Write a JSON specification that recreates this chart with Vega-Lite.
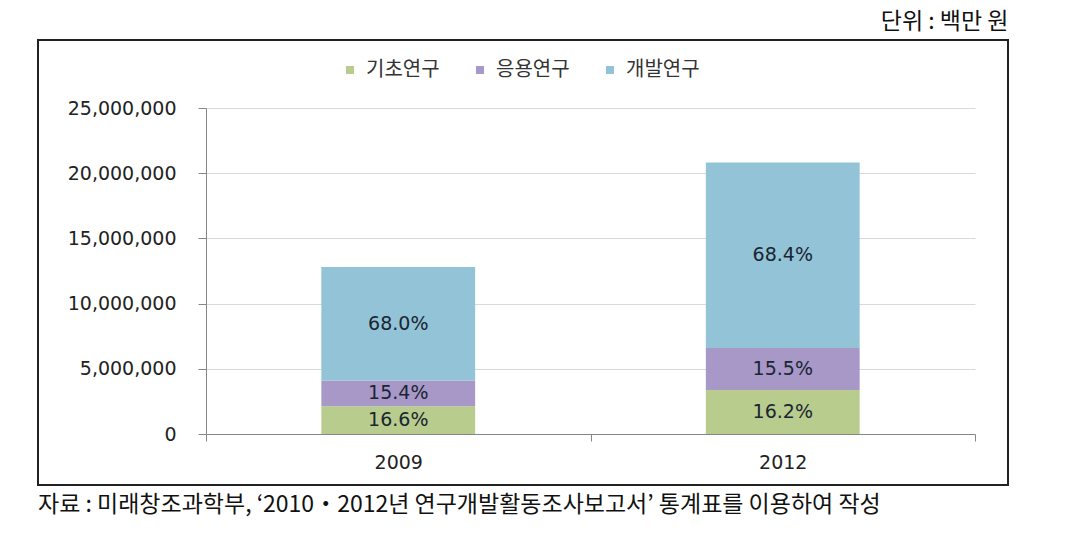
{
  "$schema": "https://vega.github.io/schema/vega-lite/v6.json",
  "autosize": "none",
  "padding": {"left": 38, "top": 40, "right": 60, "bottom": 60},
  "width": 970,
  "height": 445,
  "background": "#ffffff",
  "title": {
    "text": "자료 : 미래창조과학부, ‘2010・2012년 연구개발활동조사보고서’ 통계표를 이용하여 작성",
    "orient": "bottom",
    "anchor": "start",
    "frame": "group",
    "offset": 9,
    "font": "Noto Sans CJK KR",
    "fontSize": 23,
    "fontWeight": "normal",
    "color": "#111111"
  },
  "data": {
    "values": [
      {"year": "2009", "cat": "기초연구", "value": 2125000, "pct": "16.6%", "order": 1},
      {"year": "2009", "cat": "응용연구", "value": 1971000, "pct": "15.4%", "order": 2},
      {"year": "2009", "cat": "개발연구", "value": 8704000, "pct": "68.0%", "order": 3},
      {"year": "2012", "cat": "기초연구", "value": 3370000, "pct": "16.2%", "order": 1},
      {"year": "2012", "cat": "응용연구", "value": 3224000, "pct": "15.5%", "order": 2},
      {"year": "2012", "cat": "개발연구", "value": 14227000, "pct": "68.4%", "order": 3}
    ]
  },
  "encoding": {
    "x": {
      "field": "year",
      "type": "nominal",
      "scale": {"range": [168, 937], "paddingInner": 0, "paddingOuter": 0},
      "axis": {
        "title": null,
        "offset": -51,
        "tickBand": "extent",
        "domainColor": "#868686",
        "tickColor": "#868686",
        "tickSize": 7,
        "labelPadding": 12,
        "labelAngle": 0,
        "labelFont": "DejaVu Sans",
        "labelFontSize": 19,
        "labelColor": "#222222",
        "grid": false
      }
    },
    "y": {
      "field": "value",
      "type": "quantitative",
      "stack": "zero",
      "scale": {"domain": [0, 25000000], "range": [394, 68], "nice": false},
      "axis": {
        "title": "단위 : 백만 원",
        "titleAngle": 0,
        "titleAlign": "right",
        "titleBaseline": "middle",
        "titleX": 802,
        "titleY": -19,
        "titleFont": "Noto Sans CJK KR",
        "titleFontSize": 23,
        "titleFontWeight": "normal",
        "titleColor": "#111111",
        "offset": -168,
        "values": [0, 5000000, 10000000, 15000000, 20000000, 25000000],
        "format": ",d",
        "domainColor": "#868686",
        "tickColor": "#868686",
        "tickSize": 8,
        "labelPadding": 22,
        "labelFont": "DejaVu Sans",
        "labelFontSize": 19,
        "labelColor": "#222222",
        "grid": true,
        "gridColor": "#d9d9d9",
        "gridWidth": 1
      }
    },
    "order": {"field": "order", "type": "quantitative"}
  },
  "layer": [
    {
      "mark": {"type": "bar", "width": {"band": 0.4}},
      "encoding": {
        "color": {
          "field": "cat",
          "type": "nominal",
          "scale": {
            "domain": ["기초연구", "응용연구", "개발연구"],
            "range": ["#b8cc8d", "#a898c8", "#92c3d6"]
          },
          "legend": {
            "title": null,
            "orient": "none",
            "direction": "horizontal",
            "legendX": 302,
            "legendY": 20,
            "symbolType": "square",
            "symbolSize": 64,
            "symbolStrokeWidth": 0,
            "labelFont": "Noto Sans CJK KR",
            "labelFontSize": 20,
            "labelColor": "#333333",
            "labelOffset": 6,
            "columnPadding": 30
          }
        }
      }
    },
    {
      "mark": {"type": "text", "font": "DejaVu Sans", "fontSize": 19, "color": "#1a2533", "baseline": "middle"},
      "encoding": {
        "y": {"field": "value", "type": "quantitative", "stack": "zero", "bandPosition": 0.5},
        "text": {"field": "pct"}
      }
    }
  ],
  "config": {
    "view": {"stroke": "#222222", "strokeWidth": 2}
  }
}
